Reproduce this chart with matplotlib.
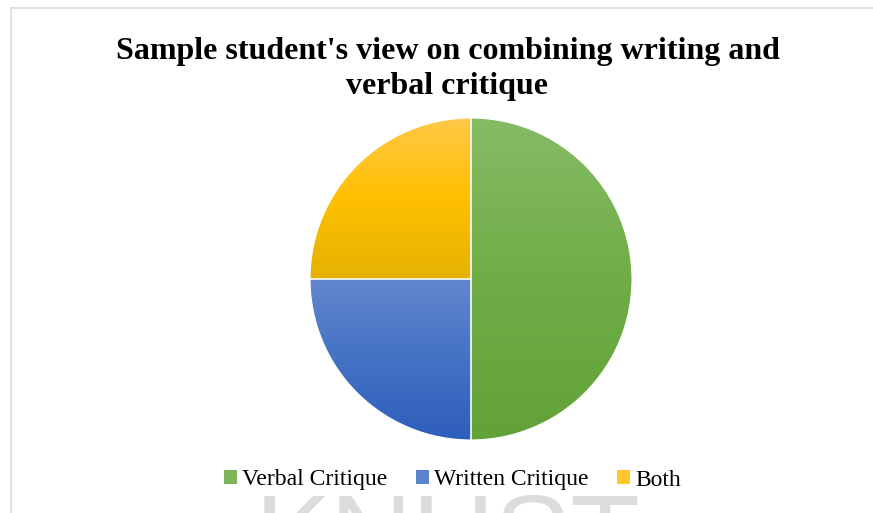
import numpy as np
import matplotlib
matplotlib.use("Agg")
import matplotlib.pyplot as plt
from matplotlib.colors import LinearSegmentedColormap
from matplotlib.patches import Patch
from matplotlib.lines import Line2D

# Survey responses (share of students)
categories = ["Verbal Critique", "Written Critique", "Both"]
shares = [50, 25, 25]

title_lines = ["Sample student's view on combining writing and", "verbal critique"]

# three-stop vertical gradients: top tint, base, bottom shade
gradients = [
    ["#86BB66", "#70AD47", "#62A238"],
    ["#6387CE", "#4472C4", "#2E5EBC"],
    ["#FFC847", "#FFC000", "#E4B200"],
]
legend_colors = ["#7DB55A", "#5A83CC", "#FFC72C"]

W, H, DPI = 873, 513, 100
fig = plt.figure(figsize=(W / DPI, H / DPI), dpi=DPI)
fig.patch.set_facecolor("white")

# chart frame (top and left edges visible)
frame_col = "#D9DCE3"
fig.add_artist(Line2D([10.5 / W, 1.0], [1 - 7.5 / H, 1 - 7.5 / H],
                      color=frame_col, lw=1.2, transform=fig.transFigure))
fig.add_artist(Line2D([10.5 / W, 10.5 / W], [0.0, 1 - 7.5 / H],
                      color=frame_col, lw=1.2, transform=fig.transFigure))

# watermark
fig.text(448 / W, 1 - 574 / H, "KNUST", family="Liberation Sans",
         fontsize=82, color="#DCDCDC", ha="center", va="baseline", zorder=0)

# two-line title
for line, base_y in zip(title_lines, [59, 94]):
    fig.text(447.5 / W, 1 - base_y / H, line, family="Liberation Serif",
             fontweight="bold", fontsize=23, ha="center", va="baseline")

cx, cy, r = 471, 279, 161
ax = fig.add_axes([(cx - r) / W, (H - cy - r) / H, 2 * r / W, 2 * r / H])
wedges, _ = ax.pie(shares, startangle=90, counterclock=False, radius=1,
                   wedgeprops=dict(linewidth=0.8, edgecolor="white"))
ax.set_xlim(-1, 1)
ax.set_ylim(-1, 1)
ax.set_aspect("equal")
ax.axis("off")

for w, stops in zip(wedges, gradients):
    w.set_facecolor("none")
    # vertical extent of this wedge
    verts = w.get_path().vertices
    ymin, ymax = verts[:, 1].min(), verts[:, 1].max()
    xmin, xmax = verts[:, 0].min(), verts[:, 0].max()
    cmap = LinearSegmentedColormap.from_list("g", stops[::-1])
    grad = np.linspace(0, 1, 256).reshape(-1, 1)
    im = ax.imshow(grad, cmap=cmap, origin="lower", aspect="auto",
                   extent=[xmin, xmax, ymin, ymax], zorder=1,
                   interpolation="bilinear")
    im.set_clip_path(w)
    w.set_zorder(2)
ax.set_xlim(-1, 1)
ax.set_ylim(-1, 1)

handles = [Patch(facecolor=c, edgecolor="none") for c in legend_colors]
fig.legend(handles, categories, loc="center", bbox_to_anchor=(452.5 / W, 1 - 480 / H),
           ncol=3, frameon=False, prop=dict(family="Liberation Serif", size=17),
           handlelength=0.55, handleheight=0.55, handletextpad=0.22,
           columnspacing=1.2, borderpad=0, borderaxespad=0)

fig.savefig("out.png", dpi=DPI, facecolor="white")
